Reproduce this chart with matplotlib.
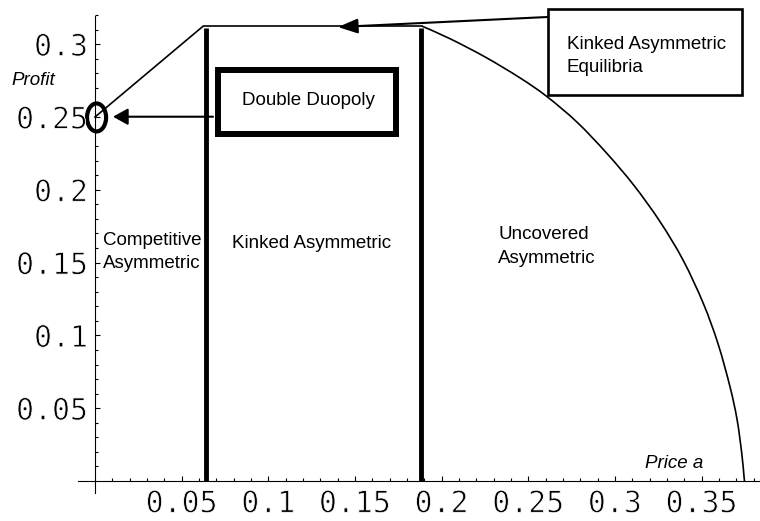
import matplotlib
matplotlib.use("Agg")
import matplotlib.pyplot as plt
import matplotlib.patheffects as pe
from matplotlib.patches import Rectangle, Ellipse, PathPatch
from matplotlib.path import Path
from matplotlib.ticker import FixedLocator

# Profit frontier: rising segment and flat top (straight pieces)
kink_x = [0.0, 0.0625, 0.1885]
kink_y = [0.25, 0.3125, 0.3125]
# Falling part of the frontier (smooth curve down to zero profit)
fall_x = [0.1885, 0.2048, 0.2250, 0.2452, 0.2606, 0.2781, 0.2953, 0.3110,
          0.3260, 0.3393, 0.3510, 0.3595, 0.3664, 0.3705, 0.3732, 0.3745,
          0.3748]
fall_y = [0.3125, 0.3038, 0.2913, 0.2769, 0.2642, 0.2465, 0.2251, 0.2030,
          0.1782, 0.1518, 0.1220, 0.0943, 0.0648, 0.0422, 0.0190, 0.0032,
          0.0]

# Region boundaries (price a)
boundary_x = [0.0643, 0.1881]
boundary_top = 0.3108

# Double duopoly point
duopoly_x, duopoly_y = 0.0009, 0.2497

x_major = [0.05, 0.10, 0.15, 0.20, 0.25, 0.30, 0.35]
x_labels = ["0.05", "0.1", "0.15", "0.2", "0.25", "0.3", "0.35"]
y_major = [0.05, 0.10, 0.15, 0.20, 0.25, 0.30]
y_labels = ["0.05", "0.1", "0.15", "0.2", "0.25", "0.3"]
x_minor = [i / 100 for i in range(1, 39) if i % 5]
y_minor = [i / 100 for i in range(1, 33) if i % 5]


def smooth_path(xs, ys):
    """Catmull-Rom curve through the points, as cubic Bezier segments."""
    pts = list(zip(xs, ys))
    n = len(pts)
    verts = [pts[0]]
    codes = [Path.MOVETO]
    for i in range(n - 1):
        p0 = pts[i - 1] if i > 0 else pts[i]
        p1 = pts[i]
        p2 = pts[i + 1]
        p3 = pts[i + 2] if i + 2 < n else pts[i + 1]
        c1 = (p1[0] + (p2[0] - p0[0]) / 6, p1[1] + (p2[1] - p0[1]) / 6)
        c2 = (p2[0] - (p3[0] - p1[0]) / 6, p2[1] - (p3[1] - p1[1]) / 6)
        verts += [c1, c2, p2]
        codes += [Path.CURVE4] * 3
    return Path(verts, codes)


fig = plt.figure(figsize=(7.6, 5.21), dpi=100)
ax = fig.add_axes([0, 0, 1, 1])
ax.set_xlim(-0.05482, 0.38373)
ax.set_ylim(-0.02747, 0.33036)
ax.patch.set_visible(False)

# Axes crossing at the origin
for side in ("top", "right"):
    ax.spines[side].set_visible(False)
ax.spines["left"].set_position(("data", 0))
ax.spines["bottom"].set_position(("data", 0))
ax.spines["left"].set_bounds(-0.0082, 0.3196)
ax.spines["bottom"].set_bounds(-0.0098, 0.3837)
for s in ("left", "bottom"):
    ax.spines[s].set_linewidth(0.8)

ax.xaxis.set_major_locator(FixedLocator(x_major))
ax.xaxis.set_minor_locator(FixedLocator(x_minor))
ax.yaxis.set_major_locator(FixedLocator(y_major))
ax.yaxis.set_minor_locator(FixedLocator(y_minor))
ax.set_xticklabels(x_labels)
ax.set_yticklabels(y_labels)
ax.tick_params(which="major", direction="in", length=3.6, width=0.8)
ax.tick_params(which="minor", direction="in", length=2.0, width=0.8)
ax.tick_params(axis="x", which="major", pad=6)
ax.tick_params(axis="y", which="major", pad=5)
thin = [pe.Stroke(linewidth=0.6, foreground="white")]
for lab in ax.get_xticklabels() + ax.get_yticklabels():
    lab.set_fontfamily("DejaVu Sans Mono")
    lab.set_fontsize(21.5)
    lab.set_path_effects(thin)

# Frontier and region boundaries
ax.plot(kink_x, kink_y, color="black", lw=1.2, solid_joinstyle="miter")
ax.add_patch(PathPatch(smooth_path(fall_x, fall_y), fill=False,
                       ec="black", lw=1.2))
for bx in boundary_x:
    ax.plot([bx, bx], [0, boundary_top], color="black", lw=3.5,
            solid_capstyle="butt")

# Double duopoly marker
ax.add_patch(Ellipse((duopoly_x, duopoly_y), 0.0110, 0.0192, fill=False,
                     ec="black", lw=3.0))

# Annotation boxes
ax.add_patch(Rectangle((0.0710, 0.2380), 0.1027, 0.0443, fill=False,
                       ec="black", lw=4.3))
ax.add_patch(Rectangle((0.2616, 0.2648), 0.1117, 0.0592, fill=False,
                       ec="black", lw=1.9))

# Arrows
ax.annotate("", xy=(0.0104, 0.2502), xytext=(0.0681, 0.2502),
            arrowprops=dict(arrowstyle="-|>,head_length=0.9,head_width=0.5",
                            mutation_scale=10, lw=1.5, color="black",
                            shrinkA=0, shrinkB=0))
ax.annotate("", xy=(0.1402, 0.3118), xytext=(0.2614, 0.3187),
            arrowprops=dict(arrowstyle="-|>,head_length=1.2,head_width=0.45",
                            mutation_scale=10, lw=1.5, color="black",
                            shrinkA=0, shrinkB=0))

txt = dict(family="Liberation Sans", fontsize=13.5, va="baseline", ha="left",
           color="black")
ax.text(0.0044, 0.1621, "Competitive", **txt)
ax.text(0.0044, 0.1463, "Asymmetric", **txt)
ax.text(0.0789, 0.1600, "Kinked Asymmetric", **txt)
ax.text(0.2327, 0.1660, "Uncovered", **txt)
ax.text(0.2327, 0.1495, "Asymmetric", **txt)
ax.text(0.2722, 0.2970, "Kinked Asymmetric", **txt)
ax.text(0.2722, 0.2811, "Equilibria", **txt)
ax.text(0.0846, 0.2582, "Double Duopoly", **txt)
ax.text(0.3174, 0.0087, "Price a", style="italic", **txt)
ax.text(-0.0481, 0.2720, "Profit", style="italic", **txt)

fig.savefig("out.png", dpi=100, facecolor="white")
